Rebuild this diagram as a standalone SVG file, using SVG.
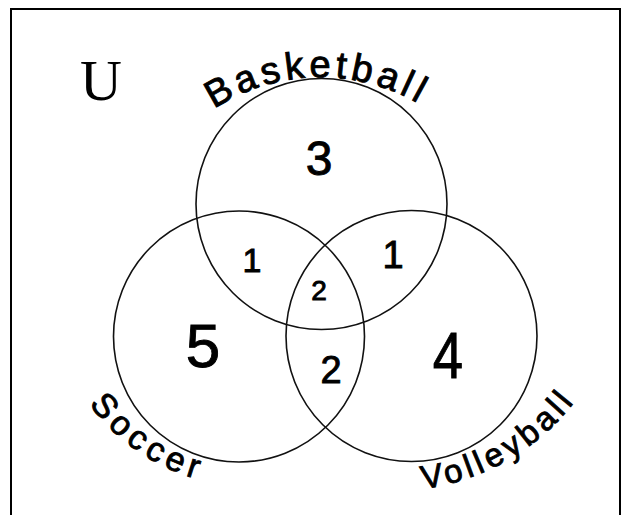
<svg xmlns="http://www.w3.org/2000/svg" width="629" height="515" viewBox="0 0 629 515">
  <style>
    .set { fill: none; stroke: #111; stroke-width: 1.6; }
    .hand { font-family: "Liberation Sans", "DejaVu Sans", sans-serif; fill: #000; stroke: #000; stroke-width: 0.9; }
    .num { text-anchor: middle; }
    .frame { fill: none; stroke: #000; stroke-width: 2; }
  </style>
  <defs>
    <path id="arcB" d="M 214 109 A 195 195 0 0 1 424 107"/>
    <path id="arcS" d="M 89 404 A 201 201 0 0 0 213 483"/>
    <path id="arcV" d="M 423 489 A 231 231 0 0 0 584 389"/>
  </defs>
  <rect width="629" height="515" fill="#fff"/>
  <g id="universe">
    <path class="frame" d="M 11 515 V 9 H 620 V 515"/>
    <text x="80" y="100" font-family="Liberation Serif, serif" font-size="58" fill="#000">U</text>
  </g>
  <g id="basketball">
    <circle class="set" cx="321.5" cy="204" r="125.5"/>
    <text class="hand" font-size="38"><textPath href="#arcB" textLength="214" lengthAdjust="spacing">Basketball</textPath></text>
  </g>
  <g id="soccer">
    <circle class="set" cx="239" cy="336.5" r="125.5"/>
    <text class="hand" font-size="34"><textPath href="#arcS" textLength="133" lengthAdjust="spacing">Soccer</textPath></text>
  </g>
  <g id="volleyball">
    <circle class="set" cx="411.5" cy="336" r="125.5"/>
    <text class="hand" font-size="33"><textPath href="#arcV" textLength="178" lengthAdjust="spacing">Volleyball</textPath></text>
  </g>
  <g id="counts" class="hand">
    <text class="num" x="319" y="175" font-size="48">3</text>
    <text class="num" x="252" y="272" font-size="34">1</text>
    <text class="num" x="393" y="268" font-size="38">1</text>
    <text class="num" x="319" y="300" font-size="28">2</text>
    <text class="num" x="331" y="383" font-size="38">2</text>
    <text class="num" x="203" y="367" font-size="62">5</text>
    <text class="num" transform="translate(448,378) scale(0.85,1)" x="0" y="0" font-size="64">4</text>
  </g>
</svg>
